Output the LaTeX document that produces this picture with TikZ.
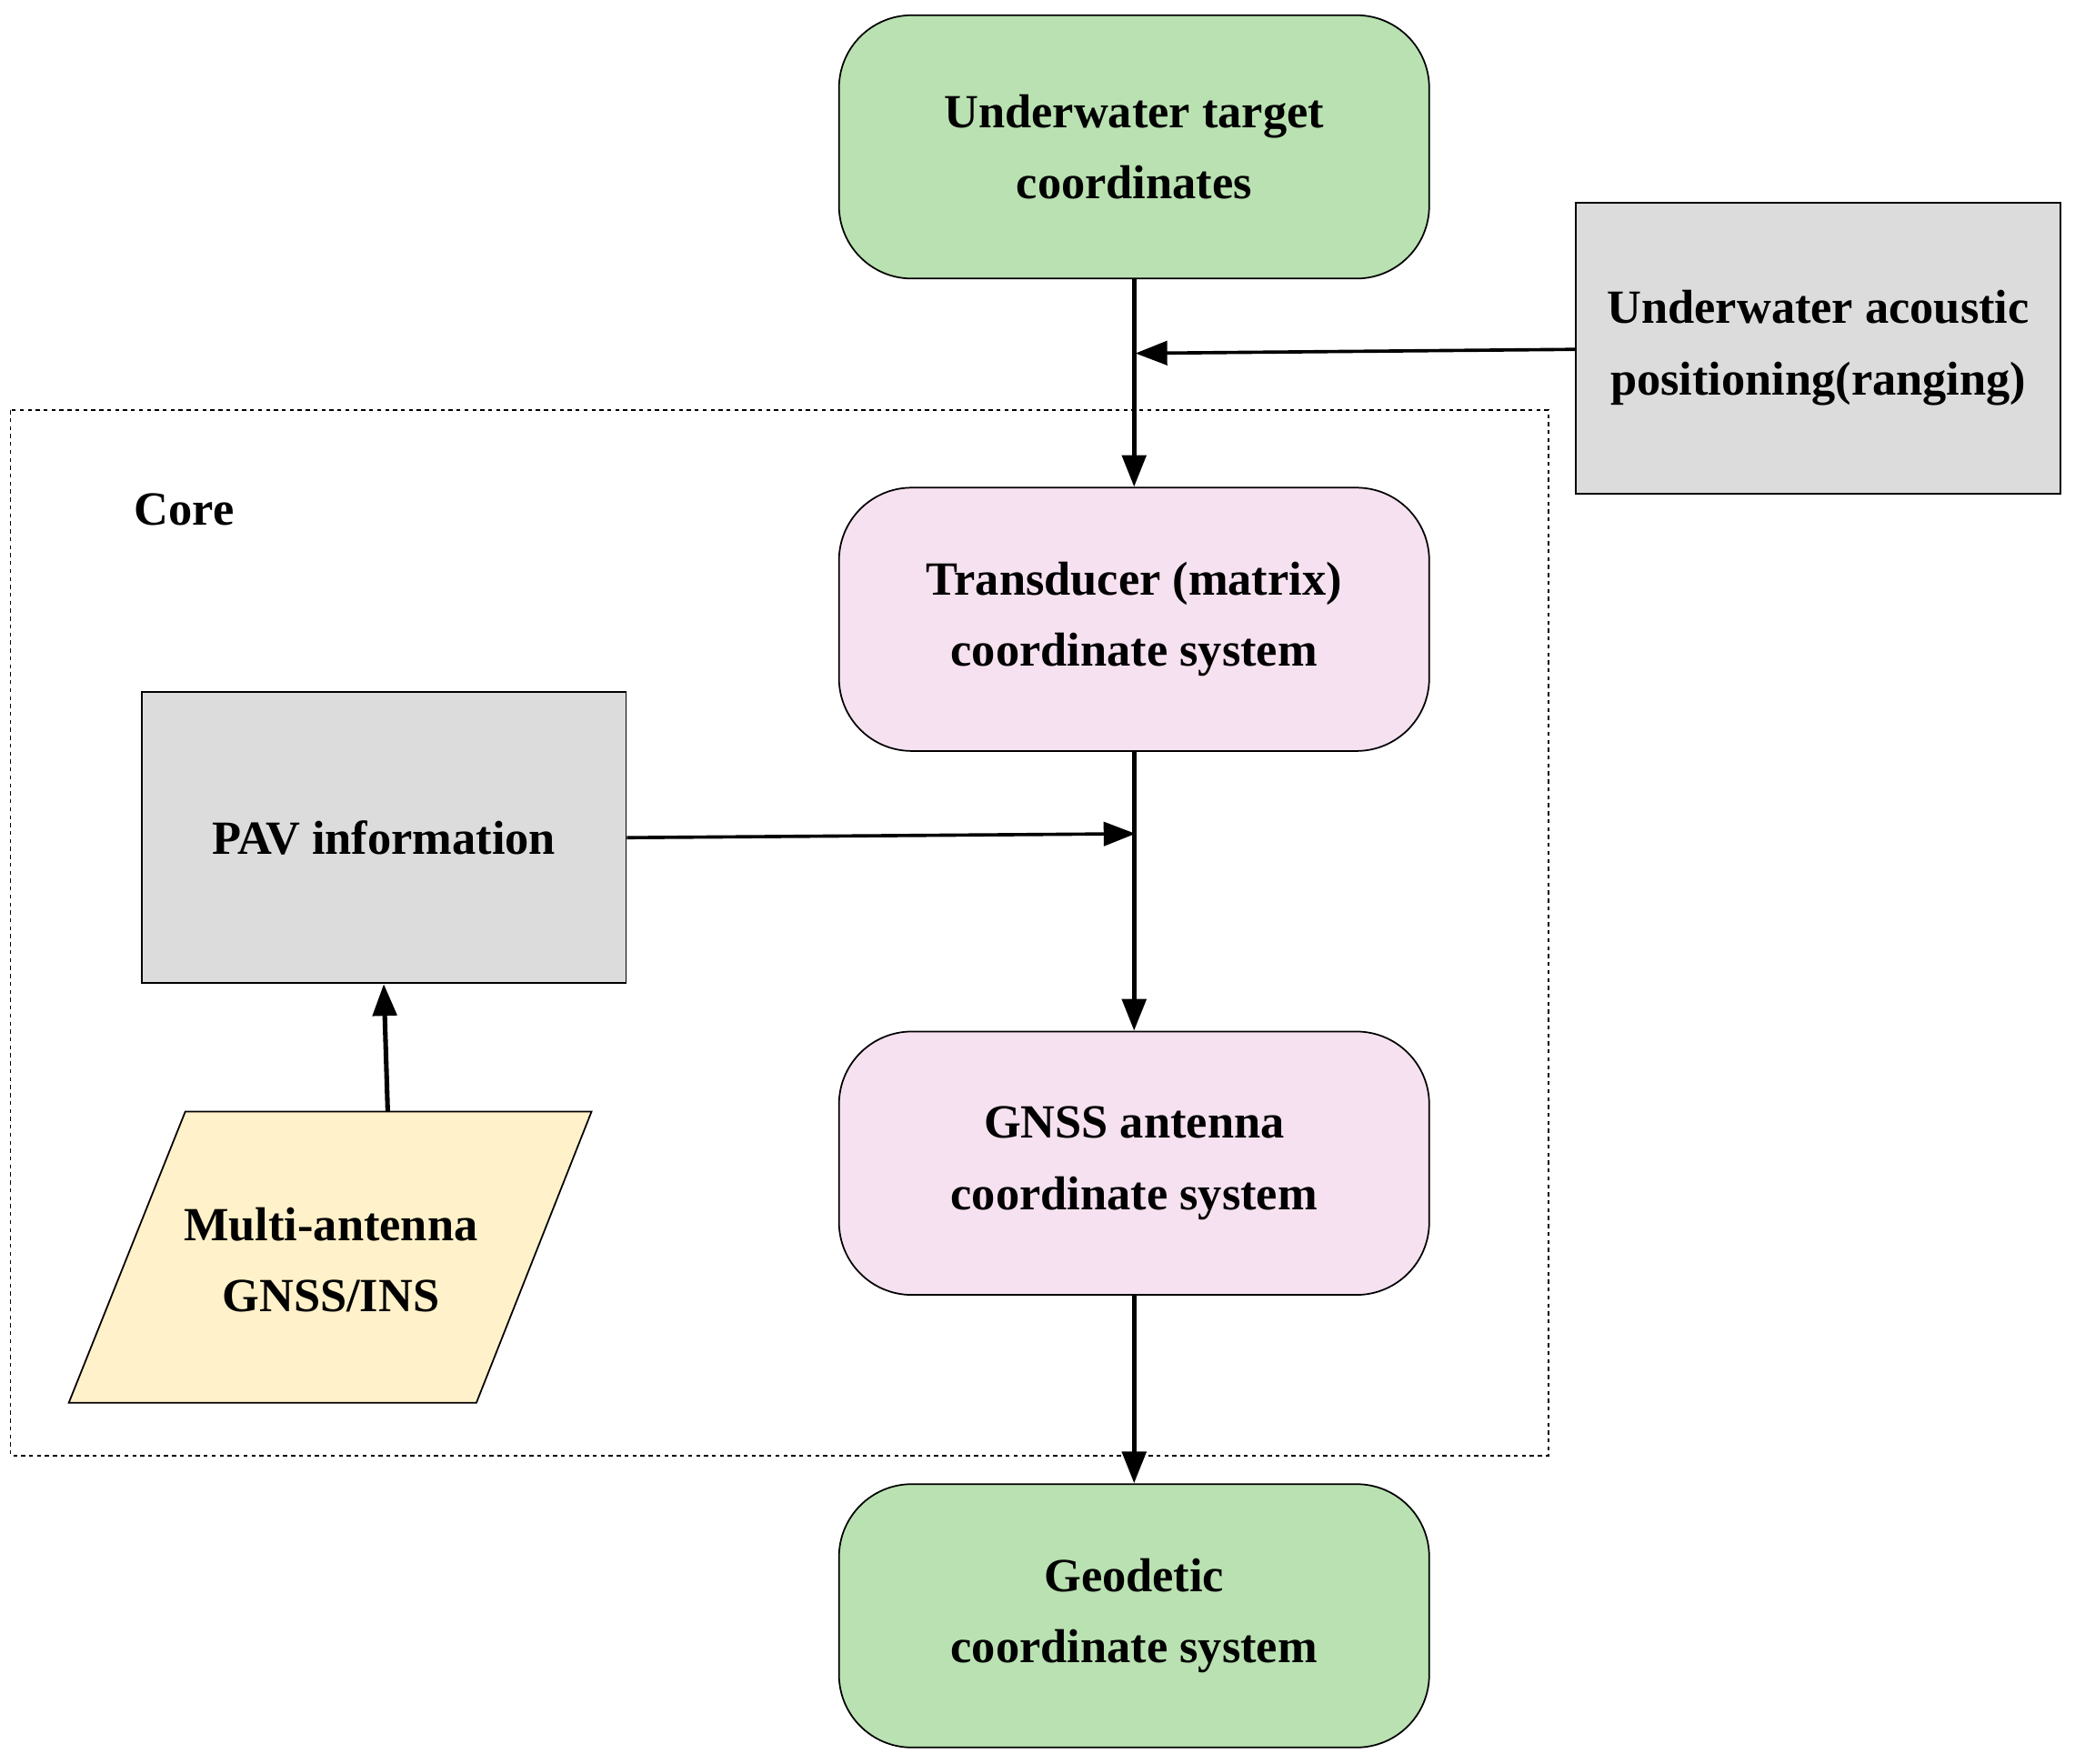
\documentclass[tikz,border=0pt]{standalone}
\usepackage{fontspec}
\setmainfont{Liberation Serif}
\usetikzlibrary{arrows.meta,shapes.geometric}
\definecolor{gr}{HTML}{B9E1B1}
\definecolor{pk}{HTML}{F5E1F0}
\definecolor{gy}{HTML}{DCDCDC}
\definecolor{yl}{HTML}{FFF1C9}
\begin{document}
\begin{tikzpicture}[x=1pt,y=-1pt,
  lab/.style={font=\fontsize{36}{54}\selectfont\bfseries,align=center},
  rbox/.style={lab,draw,line width=1.2pt,rounded corners=55pt,minimum width=446pt,minimum height=199pt,inner sep=0pt},
  gbox/.style={lab,draw,line width=1.2pt,fill=gy,minimum width=366pt,minimum height=220pt,inner sep=0pt},
  arr/.style={line width=3.5pt,-{Triangle[length=24pt,width=18pt]}},
  arr2/.style={line width=2.5pt,-{Triangle[length=24pt,width=18pt]}}]
\useasboundingbox (0,0) rectangle (1568,1333);
\draw[dashed,line width=1pt] (8,310) rectangle (1170,1100);
\node[lab,anchor=west] (core) at (98,385) {Core};
\node[rbox,fill=gr] (top) at (857,111) {Underwater target\\coordinates};
\node[gbox] (ac) at (1374,263) {Underwater acoustic\\positioning(ranging)};
\node[rbox,fill=pk] (tr) at (857,468) {Transducer (matrix)\\coordinate system};
\node[gbox] (pav) at (290,633) {PAV information};
\node[rbox,fill=pk] (gn) at (857,879) {GNSS antenna\\coordinate system};
\node[rbox,fill=gr] (geo) at (857,1221) {Geodetic\\coordinate system};
\coordinate (p1) at (52,1060); \coordinate (p2) at (360,1060);
\coordinate (p3) at (447,840); \coordinate (p4) at (140,840);
\draw[line width=1.2pt,fill=yl] (p1)--(p2)--(p3)--(p4)--cycle;
\node[lab] (ma) at (250,952) {Multi-antenna\\GNSS/INS};
\coordinate (mt) at (293,840);
\coordinate (j1) at (858,267);
\coordinate (j2) at (858,630);
\draw[arr] (top.south) -- (tr.north);
\draw[arr] (tr.south) -- (gn.north);
\draw[arr] (gn.south) -- (geo.north);
\draw[arr2] (ac.west |- 0,264) -- (j1);
\draw[arr2] (pav.east) -- (j2);
\draw[arr] (mt) -- (pav.south);
\end{tikzpicture}
\end{document}
